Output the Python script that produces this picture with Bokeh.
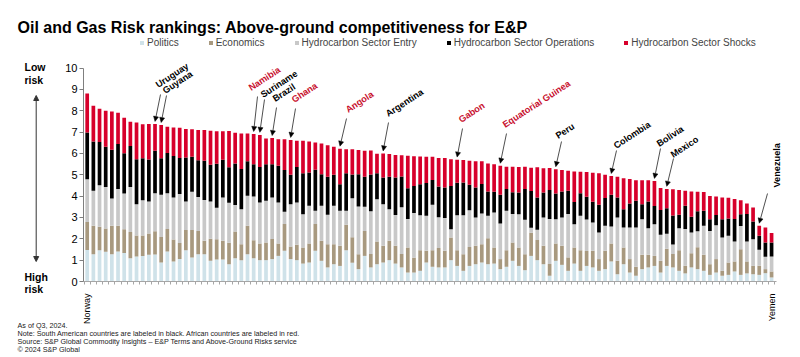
import math
from bokeh.plotting import figure
from bokeh.models import (ColumnDataSource, Range1d, FixedTicker, Legend, LegendItem,
                          Label, Arrow, NormalHead)
from bokeh.embed import file_html
from bokeh.resources import INLINE

# ---------------- data ----------------
politics = [1.48, 1.28, 1.47, 1.39, 1.28, 1.41, 1.34, 1.09, 1.17, 1.20,
            1.25, 1.27, 0.89, 1.41, 0.94, 1.05, 1.47, 1.13, 1.28, 1.28,
            0.97, 1.03, 1.03, 0.81, 1.09, 1.00, 1.28, 1.09, 1.00, 1.00,
            1.05, 1.20, 1.44, 1.05, 1.00, 0.84, 0.89, 1.44, 0.97, 0.66,
            0.81, 0.73, 1.47, 0.88, 0.58, 1.20, 0.66, 0.81, 0.89, 1.00,
            0.84, 0.66, 0.42, 0.42, 0.50, 0.89, 0.69, 0.66, 0.66, 1.00,
            0.73, 0.50, 0.73, 0.81, 0.89, 0.81, 0.84, 0.58, 0.69, 0.97,
            0.73, 0.53, 1.20, 1.00, 0.81, 0.27, 0.97, 0.78, 0.50, 0.84,
            0.50, 0.73, 0.66, 0.50, 0.58, 0.94, 0.34, 0.81, 0.42, 0.27,
            0.58, 0.66, 0.73, 0.42, 0.73, 0.66, 0.50, 0.38, 0.66, 0.58,
            0.50, 0.31, 0.42, 0.27, 0.31, 0.47, 0.31, 0.38, 0.34, 0.31,
            0.39, 0.19]
economics = [1.31, 1.33, 1.09, 1.09, 1.33, 1.20, 1.11, 1.23, 0.98, 0.95,
             1.00, 1.08, 1.20, 1.05, 1.03, 0.75, 0.94, 1.28, 1.09, 0.63,
             1.03, 0.95, 0.88, 1.00, 1.25, 0.75, 1.33, 0.84, 0.78, 0.83,
             0.94, 0.58, 1.25, 0.59, 0.72, 0.75, 0.89, 1.25, 0.94, 1.09,
             0.94, 0.94, 1.19, 1.19, 0.70, 1.17, 0.63, 1.06, 0.78, 0.91,
             0.83, 0.63, 1.17, 0.70, 0.97, 0.55, 0.78, 0.91, 0.78, 1.06,
             0.73, 0.78, 0.89, 0.86, 0.86, 1.22, 0.75, 0.47, 0.78, 0.86,
             0.86, 0.75, 1.09, 0.94, 0.86, 0.55, 0.81, 0.89, 0.63, 0.75,
             0.97, 0.70, 0.78, 0.55, 0.86, 0.84, 0.63, 0.78, 0.63, 0.42,
             0.67, 0.59, 0.47, 0.55, 0.81, 0.63, 0.97, 0.36, 0.66, 1.02,
             0.75, 0.50, 0.63, 0.23, 0.58, 0.47, 1.20, 0.56, 0.39, 0.43,
             0.19, 0.28]
sector_entry = [2.00, 1.64, 1.95, 1.95, 1.28, 1.72, 1.67, 2.11, 1.47, 1.66,
                1.50, 1.78, 1.97, 1.67, 1.97, 2.30, 1.34, 1.80, 1.59, 1.91,
                1.75, 1.48, 2.03, 1.88, 1.25, 1.64, 1.41, 2.05, 1.92, 1.95,
                1.95, 1.92, 0.58, 1.98, 1.98, 1.56, 1.77, 0.63, 1.64, 1.38,
                1.80, 1.64, 0.66, 1.83, 2.23, 1.13, 2.00, 1.98, 1.95, 1.48,
                1.45, 2.19, 1.34, 2.09, 1.64, 1.64, 2.13, 1.44, 1.53, 0.39,
                1.64, 1.83, 1.72, 1.33, 1.44, 1.05, 1.64, 1.67, 1.84, 1.33,
                1.56, 1.61, 0.23, 0.48, 1.33, 2.11, 1.14, 1.33, 2.03, 1.09,
                1.61, 1.48, 1.33, 1.25, 1.17, 0.80, 2.03, 0.94, 1.48, 1.84,
                1.67, 1.25, 1.48, 1.22, 0.70, 0.44, 1.03, 1.72, 0.98, 0.75,
                1.36, 1.56, 1.59, 1.56, 1.25, 0.94, 1.09, 0.94, 1.25, 0.75,
                0.58, 0.70]
sector_operations = [2.19, 2.31, 2.03, 1.88, 2.28, 2.11, 1.89, 1.92, 2.11, 1.97,
                     1.97, 2.00, 1.72, 1.89, 1.94, 1.69, 2.06, 1.64, 1.72, 1.84,
                     1.72, 2.06, 1.77, 1.66, 1.94, 1.88, 1.61, 1.52, 1.67, 1.72,
                     1.56, 1.72, 1.95, 1.38, 1.67, 1.92, 1.56, 1.92, 1.48, 1.78,
                     1.45, 1.25, 1.75, 1.11, 1.52, 1.41, 1.72, 1.22, 1.25, 1.52,
                     1.75, 1.44, 1.44, 1.27, 1.45, 1.53, 1.16, 1.44, 1.44, 2.03,
                     1.53, 1.53, 1.19, 1.41, 1.38, 1.14, 0.98, 1.34, 1.02, 1.02,
                     1.02, 1.44, 1.72, 1.52, 1.17, 1.36, 1.20, 1.22, 1.09, 1.05,
                     1.06, 1.06, 0.97, 1.30, 1.30, 1.48, 0.94, 0.86, 1.13, 1.25,
                     0.70, 1.25, 0.86, 1.16, 1.19, 1.36, 0.63, 1.09, 0.73, 0.94,
                     0.70, 0.55, 0.48, 0.86, 0.81, 1.05, 0.55, 1.28, 0.83, 0.65,
                     0.67, 0.66]
sector_shocks = [1.83, 1.67, 1.55, 1.69, 1.80, 1.47, 1.66, 1.14, 1.72, 1.59,
                 1.66, 1.25, 1.55, 1.23, 1.34, 1.41, 1.34, 1.28, 1.42, 1.44,
                 1.59, 1.52, 1.33, 1.70, 1.44, 1.67, 1.31, 1.41, 1.50, 1.20,
                 1.22, 1.25, 1.45, 1.63, 1.22, 1.52, 1.45, 1.27, 1.44, 1.47,
                 1.31, 1.66, 1.13, 1.19, 1.13, 1.22, 1.13, 0.92, 1.13, 1.06,
                 1.06, 1.00, 1.52, 1.39, 1.30, 1.23, 1.09, 1.34, 1.38, 1.25,
                 1.08, 1.05, 1.13, 1.22, 1.06, 1.31, 1.28, 1.36, 1.05, 1.20,
                 1.20, 1.05, 1.09, 1.41, 1.14, 1.03, 1.14, 1.00, 0.94, 1.42,
                 1.00, 1.16, 1.36, 1.47, 1.09, 0.88, 0.97, 1.45, 1.14, 0.97,
                 1.13, 1.00, 1.17, 1.03, 0.91, 1.23, 1.16, 0.70, 1.19, 0.91,
                 0.88, 1.09, 0.86, 1.02, 0.98, 0.94, 0.66, 0.50, 0.66, 0.47,
                 0.70, 0.44]

series_names = ["Politics", "Economics", "Hydrocarbon Sector Entry",
                "Hydrocarbon Sector Operations", "Hydrocarbon Sector Shocks"]
x_tick_index = [0, 111]
x_tick_labels = ["Norway", "Yemen"]
y_ticks = [0, 1, 2, 3, 4, 5, 6, 7, 8, 9, 10]

# labelled countries: (name, bar index, region)
labelled = [("Uruguay", 11, "SA"), ("Guyana", 12, "SA"), ("Namibia", 27, "AF"),
            ("Suriname", 28, "SA"), ("Brazil", 30, "SA"), ("Ghana", 33, "AF"),
            ("Angola", 41, "AF"), ("Argentina", 48, "SA"), ("Gabon", 60, "AF"),
            ("Equatorial Guinea", 67, "AF"), ("Peru", 76, "SA"), ("Colombia", 85, "SA"),
            ("Bolivia", 92, "SA"), ("Mexico", 94, "SA"), ("Venezuela", 109, "SA")]

# ---------------- styles / layout ----------------
FONT = "Liberation Sans"
colors = ["#cfe2e9", "#a8997f", "#c8c8c8", "#000000", "#d7002b"]
region_color = {"SA": "#000000", "AF": "#c8102e"}

W, H = 800, 357
XPX = 693 / 112.4          # pixels per bar step
YPX = 21.34                # pixels per score unit
X_ORIGIN_PX = 86.7         # pixel of first bar centre
Y_ORIGIN_PX = 281.0        # pixel of score 0


def X(px):
    return (px - X_ORIGIN_PX) / XPX


def Y(py):
    return (Y_ORIGIN_PX - py) / YPX

# text anchor (px) and arrow tail (px) per label
label_pos = {
    "Uruguay": ((156, 85), (160, 94)),
    "Guyana": ((163, 91), (166, 95)),
    "Namibia": ((249, 88), (257, 96)),
    "Suriname": ((261, 95), (264, 99)),
    "Brazil": ((273, 99), (276, 107)),
    "Ghana": ((292, 100), (295, 108)),
    "Angola": ((346, 110), (346, 118)),
    "Argentina": ((386, 114), (388, 122)),
    "Gabon": ((459, 120), (462, 128)),
    "Equatorial Guinea": ((503, 125), (506, 133)),
    "Peru": ((556, 136), (561, 141)),
    "Colombia": ((614, 146), (616, 150)),
    "Bolivia": ((657, 144), (660, 148)),
    "Mexico": ((671, 155), (673, 158)),
    "Venezuela": ((776, 187), (767, 193)),
}

n = len(politics)
totals = [politics[i] + economics[i] + sector_entry[i] + sector_operations[i] + sector_shocks[i]
          for i in range(n)]

src = ColumnDataSource(dict(x=list(range(n)), pol=politics, eco=economics,
                            ent=sector_entry, ops=sector_operations, sh=sector_shocks))

p = figure(width=W, height=H, output_backend="svg", toolbar_location=None,
           x_range=Range1d(X(0), X(W)), y_range=Range1d(Y(H), Y(0)),
           min_border_left=0, min_border_right=0, min_border_top=0, min_border_bottom=0)
p.outline_line_color = None
p.xgrid.visible = False
p.ygrid.visible = False
p.background_fill_color = "white"
p.border_fill_color = "white"

stackers = ["pol", "eco", "ent", "ops", "sh"]
rends = p.vbar_stack(stackers, x="x", width=0.6, color=colors, line_color=None, source=src)

# axes (drawn at fixed locations inside the frame)
ya = p.yaxis[0]
ya.fixed_location = X(83)
ya.ticker = FixedTicker(ticks=y_ticks)
ya.bounds = (0, 10)
ya.axis_line_color = "#7f7f7f"
ya.major_tick_line_color = "#7f7f7f"
ya.major_tick_out = 4
ya.major_tick_in = 0
ya.minor_tick_line_color = None
ya.major_label_text_font = FONT
ya.major_label_text_font_size = "11px"
ya.major_label_text_color = "#000000"
ya.major_label_standoff = 2

xa = p.xaxis[0]
xa.fixed_location = 0
xa.bounds = (X(83), X(776))
xa.ticker = FixedTicker(ticks=x_tick_index, minor_ticks=[i - 0.5 for i in range(n + 1)])
xa.major_label_overrides = {k: v for k, v in zip(x_tick_index, x_tick_labels)}
xa.major_label_orientation = math.pi / 2
xa.major_label_text_font = FONT
xa.major_label_text_font_size = "9px"
xa.major_label_text_color = "#000000"
xa.axis_line_color = "#a6a6a6"
xa.major_tick_line_color = None
xa.minor_tick_line_color = "#a6a6a6"
xa.minor_tick_out = 3
xa.minor_tick_in = 0
xa.major_label_standoff = 6

# legend
items = [LegendItem(label=nm, renderers=[r]) for nm, r in zip(series_names, rends)]
leg = Legend(items=items, orientation="horizontal", location=(139, H - 48.7),
             glyph_width=5, glyph_height=5, label_standoff=3, spacing=29,
             label_text_font=FONT, label_text_font_size="10px", label_height=12,
             padding=0, margin=0, border_line_color=None, background_fill_alpha=0)
p.add_layout(leg)

# title
p.add_layout(Label(x=X(17), y=Y(26.5), text="Oil and Gas Risk rankings: Above-ground competitiveness for E&P",
                   text_font=FONT, text_font_size="16px", text_font_style="bold",
                   text_color="#000000", text_baseline="alphabetic"))

# risk direction
for txt, py in [("Low", 66), ("risk", 79), ("High", 276.5), ("risk", 288.5)]:
    p.add_layout(Label(x=X(24), y=Y(py), text=txt, text_font=FONT, text_font_size="10.5px",
                       text_font_style="bold", text_color="#000000", text_baseline="alphabetic"))
p.add_layout(Arrow(start=NormalHead(size=5, fill_color="#333333", line_color="#333333"),
                   end=NormalHead(size=5, fill_color="#333333", line_color="#333333"),
                   x_start=X(35.7), y_start=Y(261), x_end=X(35.7), y_end=Y(95),
                   line_color="#333333", line_width=1))

# country annotations
for name, k, reg in labelled:
    (tx, ty), (ax, ay) = label_pos[name]
    ang = math.pi / 2 if name == "Venezuela" else math.radians(33)
    p.add_layout(Label(x=X(tx), y=Y(ty), text=name, angle=ang, text_font=FONT,
                       text_font_size="9.2px", text_font_style="bold",
                       text_color=region_color[reg], text_baseline="alphabetic"))
    p.add_layout(Arrow(end=NormalHead(size=5, fill_color="black", line_color="black", line_width=0.5),
                       x_start=X(ax), y_start=Y(ay), x_end=k, y_end=totals[k] + 0.12,
                       line_color="#222222", line_width=0.8))

# footnotes
notes = ["As of Q3, 2024.",
         "Note: South American countries are labeled in black. African countries are labeled in red.",
         "Source: S&P Global Commodity Insights \u2013 E&P Terms and Above-Ground Risks service",
         "\u00a9 2024 S&P Global"]
for txt, py in zip(notes, [324.5, 333, 340.8, 348.5]):
    p.add_layout(Label(x=X(17), y=Y(py), text=txt, text_font=FONT, text_font_size="7.2px",
                       text_color="#1a1a1a", text_baseline="alphabetic"))

open("out.html", "w").write(file_html(p, INLINE))
